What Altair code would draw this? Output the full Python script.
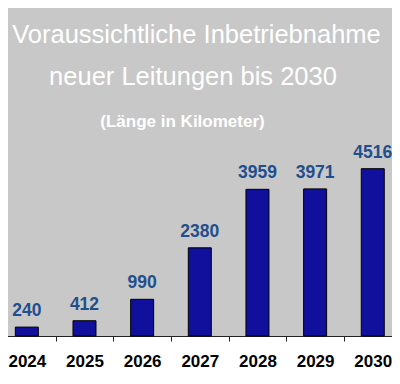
import altair as alt
import pandas as pd

years = ["2024", "2025", "2026", "2027", "2028", "2029", "2030"]
lengths = [240, 412, 990, 2380, 3959, 3971, 4516]
title_lines = ["Voraussichtliche Inbetriebnahme", "neuer Leitungen bis 2030"]
subtitle = "(Länge in Kilometer)"

df = pd.DataFrame({"year": years, "km": lengths})

x = alt.X(
    "year:O",
    sort=None,
    scale=alt.Scale(range=[-10, 393.6], paddingInner=0, paddingOuter=0),
    axis=alt.Axis(
        title=None,
        labelAngle=0,
        tickBand="extent",
        tickSize=5,
        tickColor="#222222",
        domainColor="#222222",
        domainWidth=1,
        labelFont="Liberation Sans",
        labelFontWeight="bold",
        labelFontSize=17,
        labelColor="#000000",
        labelPadding=12,
        grid=False,
    ),
)
y = alt.Y("km:Q", scale=alt.Scale(domain=[0, 8853]), axis=None)

base = alt.Chart(df).encode(x=x, y=y)

bars = base.mark_bar(size=23, color="#10109c", stroke="#000000", strokeWidth=1)
labels = base.mark_text(
    baseline="alphabetic",
    dy=-11,
    font="Liberation Sans",
    fontWeight="bold",
    fontSize=17.5,
    color="#1f4f8c",
).encode(text="km:Q")


def title_text(txt, xpos, ypos, size, weight):
    return alt.Chart(pd.DataFrame({"t": [txt]})).mark_text(
        font="Liberation Sans",
        fontSize=size,
        fontWeight=weight,
        color="#ffffff",
        align="center",
        baseline="alphabetic",
    ).encode(x=alt.value(xpos), y=alt.value(ypos), text="t:N")


t1 = title_text(title_lines[0], 188.5, 35, 25.5, "normal")
t2 = title_text(title_lines[1], 185, 77, 25.5, "normal")
t3 = title_text(subtitle, 174.5, 119, 17, "bold")

chart = (
    alt.layer(bars, labels, t1, t2, t3)
    .properties(
        width=384,
        height=328,
        background="#ffffff",
        padding={"left": 0, "top": 0, "right": 0, "bottom": 34},
        autosize="none",
    )
    .configure_view(fill="#c8c8c8", strokeWidth=0)
)

chart.save("out.html", embed_options={"renderer": "svg", "actions": False})
